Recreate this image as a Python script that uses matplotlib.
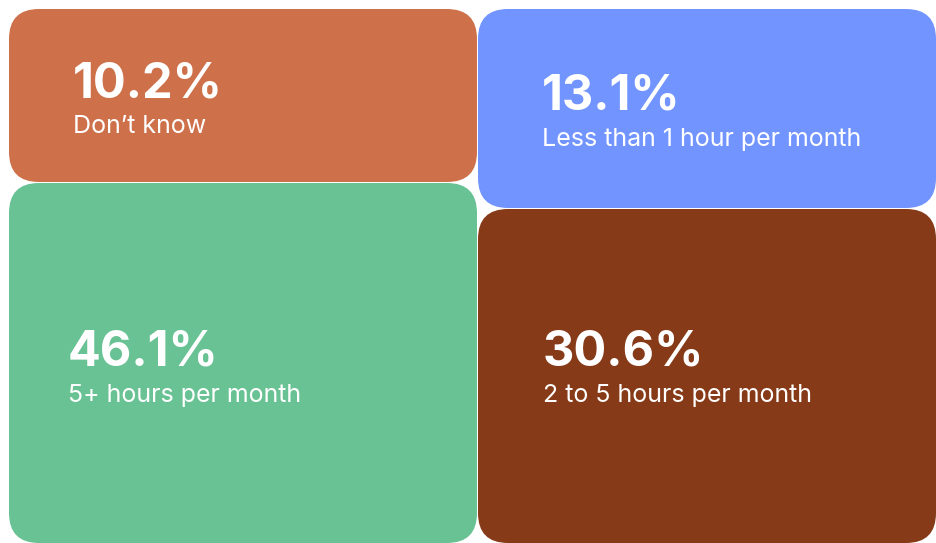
import matplotlib.pyplot as plt
from matplotlib.patches import FancyBboxPatch

# data
labels = ["Don\u2019t know", "Less than 1 hour per month", "5+ hours per month", "2 to 5 hours per month"]
values = [10.2, 13.1, 46.1, 30.6]
colors = ["#CE714B", "#7294FF", "#69C293", "#863A17"]

# layout of the tiles in pixel space (x0, y0, x1, y1) and text anchors
tiles = [(9, 9, 477, 182), (478, 9, 936, 208), (9, 183, 477, 543), (478, 209, 936, 543)]
text_xy = [(73, 97), (542, 110), (68, 366), (543, 366)]

W, H = 936, 543
fig = plt.figure(figsize=(W / 100, H / 100), dpi=100)
ax = fig.add_axes([0, 0, 1, 1])
ax.set_xlim(0, W)
ax.set_ylim(H, 0)
ax.axis('off')

for lab, val, col, (x0, y0, x1, y1), (tx, ty) in zip(labels, values, colors, tiles, text_xy):
    box = FancyBboxPatch((x0, y0), x1 - x0, y1 - y0,
                         boxstyle="round,pad=0,rounding_size=30",
                         facecolor=col, edgecolor='none')
    ax.add_patch(box)
    ax.text(tx, ty, f"{val}%", color='white', fontsize=35,
            fontweight='bold', family='Inter', va='baseline', ha='left')
    ax.text(tx, ty + 36, lab, color='white', fontsize=18,
            family='Inter', va='baseline', ha='left')

fig.savefig('out.png', dpi=100)
